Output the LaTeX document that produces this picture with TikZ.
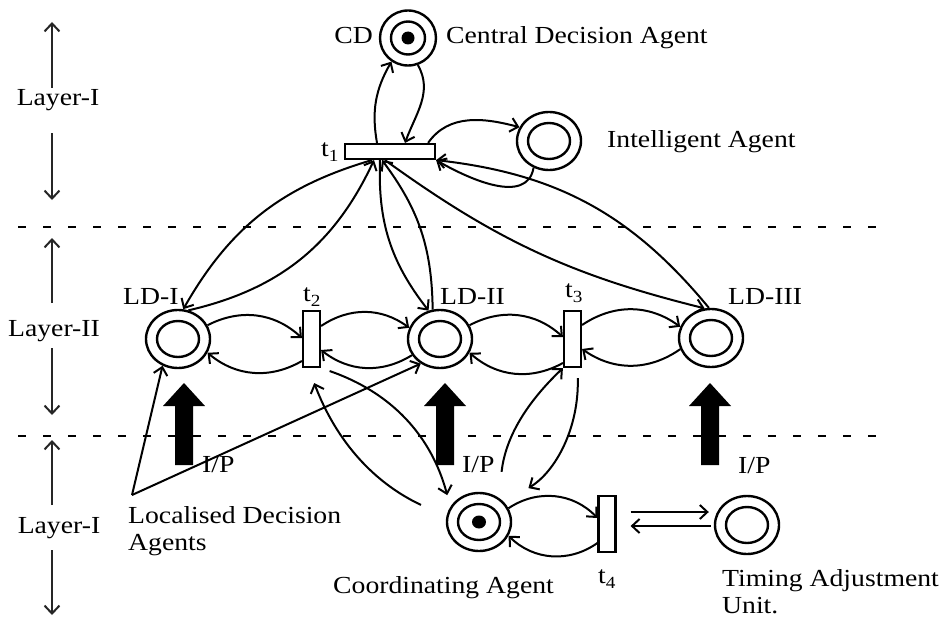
\documentclass[tikz,border=0pt]{standalone}
\usepackage{fontspec}
\setmainfont{Liberation Serif}[FakeStretch=1.13]
\usetikzlibrary{arrows.meta,shapes.geometric}
\newcommand\tlab[1]{t\raisebox{-5pt}{\fontsize{17}{17}\selectfont #1}}
\begin{document}
\begin{tikzpicture}[x=1pt,y=1pt,
  font=\fontsize{24.5}{27}\selectfont,
  lbl/.style={inner sep=0pt, anchor=base west},
  place/.style={ellipse, draw, line width=2.4pt, minimum width=64pt, minimum height=58pt, inner sep=0pt,
     path picture={\draw[line width=2.4pt] (path picture bounding box.center) ellipse [x radius=21pt, y radius=18pt];}},
  tokplace/.style={place, path picture={\draw[line width=2.4pt] (path picture bounding box.center) ellipse [x radius=21pt, y radius=18pt]; \fill (path picture bounding box.center) ellipse [x radius=7pt, y radius=6.5pt];}},
  cdplace/.style={place, minimum width=56pt, minimum height=55pt, path picture={\draw[line width=2.4pt] (path picture bounding box.center) ellipse [x radius=17pt, y radius=16.5pt]; \fill (path picture bounding box.center) ellipse [x radius=6.5pt, y radius=6.5pt];}},
  trans/.style={draw, rectangle, line width=2.2pt, inner sep=0pt, fill=white},
  htrans/.style={trans, minimum width=90pt, minimum height=15pt},
  vtrans/.style={trans, minimum width=17pt, minimum height=56pt},
  arc/.style={line width=2pt, -{Straight Barb[length=7.5pt,width=14pt]}},
  layerarrow/.style={line width=2pt, draw=black!85, -{Straight Barb[length=8pt,width=15pt]}},
  sepline/.style={line width=2.6pt, dash pattern=on 8pt off 17pt}
]
\useasboundingbox (0,0) rectangle (940,-618);

% separators
\coordinate (d1a) at (18,-227); \coordinate (d1b) at (892,-227);
\coordinate (d2a) at (18,-436); \coordinate (d2b) at (892,-436);
\draw[sepline] (d1a) -- (d1b);
\draw[sepline] (d2a) -- (d2b);

% places
\node[cdplace] (CD) at (408,-38) {};
\node[place] (IA) at (549,-141) {};
\node[place] (LD1) at (178,-339) {};
\node[place] (LD2) at (440,-339) {};
\node[place] (LD3) at (711,-338) {};
\node[tokplace] (CA) at (479,-522) {};
\node[place] (TA) at (747,-525) {};
% transitions
\node[htrans] (t1) at (390,-151.5) {};
\node[vtrans] (t2) at (311.5,-339) {};
\node[vtrans] (t3) at (572.5,-339) {};
\node[vtrans] (t4) at (607,-524) {};

% labels
\node[lbl, anchor=base east] (cdl) at (373,-44) {CD};
\node[lbl] (cdt) at (446,-44) {Central Decision Agent};
\node[lbl] (iat) at (607,-147) {Intelligent Agent};
\node[lbl] (t1l) at (321,-156) {\tlab{1}};
\node[lbl] (t2l) at (303,-301) {\tlab{2}};
\node[lbl] (t3l) at (565,-297) {\tlab{3}};
\node[lbl] (t4l) at (598,-583) {\tlab{4}};
\node[lbl] (ld1l) at (123,-304) {LD-I};
\node[lbl] (ld2l) at (440,-304) {LD-II};
\node[lbl] (ld3l) at (728,-304) {LD-III};
\node[lbl] (ip1) at (202,-472) {I/P};
\node[lbl] (ip2) at (462,-472) {I/P};
\node[lbl] (ip3) at (738,-473) {I/P};
\node[lbl] (lda) at (128,-523) {Localised Decision};
\node[lbl] (ldb) at (128,-550) {Agents};
\node[lbl] (cat) at (333,-593) {Coordinating Agent};
\node[lbl] (taa) at (722,-586) {Timing Adjustment};
\node[lbl] (tab) at (722,-613) {Unit.};
\node[lbl, anchor=base] (lay1) at (58,-106) {Layer-I};
\node[lbl, anchor=base] (lay2) at (54,-336) {Layer-II};
\node[lbl, anchor=base] (lay3) at (59,-533) {Layer-I};

% layer arrows
\coordinate (a1t) at (52,-22);  \coordinate (a1b) at (52,-88);
\coordinate (a2t) at (52,-133); \coordinate (a2b) at (52,-200);
\coordinate (a3t) at (52,-238); \coordinate (a3b) at (52,-303);
\coordinate (a4t) at (52,-348); \coordinate (a4b) at (52,-415);
\coordinate (a5t) at (52,-440); \coordinate (a5b) at (52,-505);
\coordinate (a6t) at (52,-550); \coordinate (a6b) at (52,-615);
\draw[layerarrow] (a1b) -- (a1t);
\draw[layerarrow] (a2t) -- (a2b);
\draw[layerarrow] (a3b) -- (a3t);
\draw[layerarrow] (a4t) -- (a4b);
\draw[layerarrow] (a5b) -- (a5t);
\draw[layerarrow] (a6t) -- (a6b);

% big input arrows
\foreach \x in {184,445,710} {
  \fill (\x-9,-465) -- (\x-9,-406) -- (\x-21,-406) -- (\x,-383) -- (\x+21,-406) -- (\x+9,-406) -- (\x+9,-465) -- cycle;
}

% layer I top
\draw[arc] ([xshift=-13pt]t1.north) to[out=100,in=240] (CD.235);
\draw[arc] (CD.290) to[out=-60,in=70] ([xshift=15pt]t1.north);
\draw[arc] ([xshift=-8pt]t1.north east) to[out=55,in=165] (IA.155);
\draw[arc] (IA.240) to[out=-100,in=-30] (t1.south east);

% t1 to layer II
\draw[arc] ([xshift=-18pt]t1.south) to[bend right=22] (LD1.80);
\draw[arc] (LD1.70) to[bend right=26] ([xshift=-16pt]t1.south);
\draw[arc] ([xshift=-10pt]t1.south) to[bend right=20] (LD2.112);
\draw[arc] (LD2.104) to[bend right=18] ([xshift=-8pt]t1.south);
\draw[arc] ([xshift=-5pt]t1.south) to[bend right=11] (LD3.102);
\draw[arc] (LD3.94) to[bend right=22] (t1.south east);

% layer II
\draw[arc] (LD1.25) to[bend left=35] ([yshift=1pt]t2.west);
\draw[arc] ([yshift=-22pt]t2.west) to[bend left=35] (LD1.-25);
\draw[arc] ([yshift=13pt]t2.east) to[bend left=35] (LD2.160);
\draw[arc] (LD2.-150) to[bend left=35] ([yshift=-11pt]t2.east);
\draw[arc] (LD2.25) to[bend left=35] ([yshift=2pt]t3.west);
\draw[arc] ([yshift=-24pt]t3.west) to[bend left=35] (LD2.-25);
\draw[arc] ([yshift=14pt]t3.east) to[bend left=35] (LD3.160);
\draw[arc] (LD3.-160) to[bend left=35] ([yshift=-10pt]t3.east);

% coordinating agent links
\draw[arc, shorten <=9pt, shorten >=12pt] (t2.south east) to[bend left=28] (CA.152);
\draw[arc, shorten <=28pt, shorten >=16pt] (CA.171) to[bend left=22] ([xshift=-3pt]t2.south);
\draw[arc, shorten <=10pt, shorten >=28pt] ([xshift=5pt]t3.south) to[bend left=30] (CA.37);
\draw[arc, shorten <=26pt] (CA.51) to[bend left=20] (t3.south west);
\draw[arc] (CA.25) to[bend left=40] ([yshift=6pt]t4.west);
\draw[arc] ([yshift=-19pt]t4.west) to[bend left=40] (CA.-25);
\draw[arc, shorten <=14pt, shorten >=5pt] ([yshift=12pt]t4.east) -- ([yshift=12pt]t4.east -| TA.west);
\draw[arc, shorten <=3pt, shorten >=14pt] ([yshift=-2pt]t4.east -| TA.west) -- ([yshift=-2pt]t4.east);

% localised decision agents pointers
\coordinate (corner) at (132,-495);
\draw[arc] (corner) -- (LD1.240);
\draw[arc] (corner) -- (LD2.232);
\end{tikzpicture}
\end{document}
